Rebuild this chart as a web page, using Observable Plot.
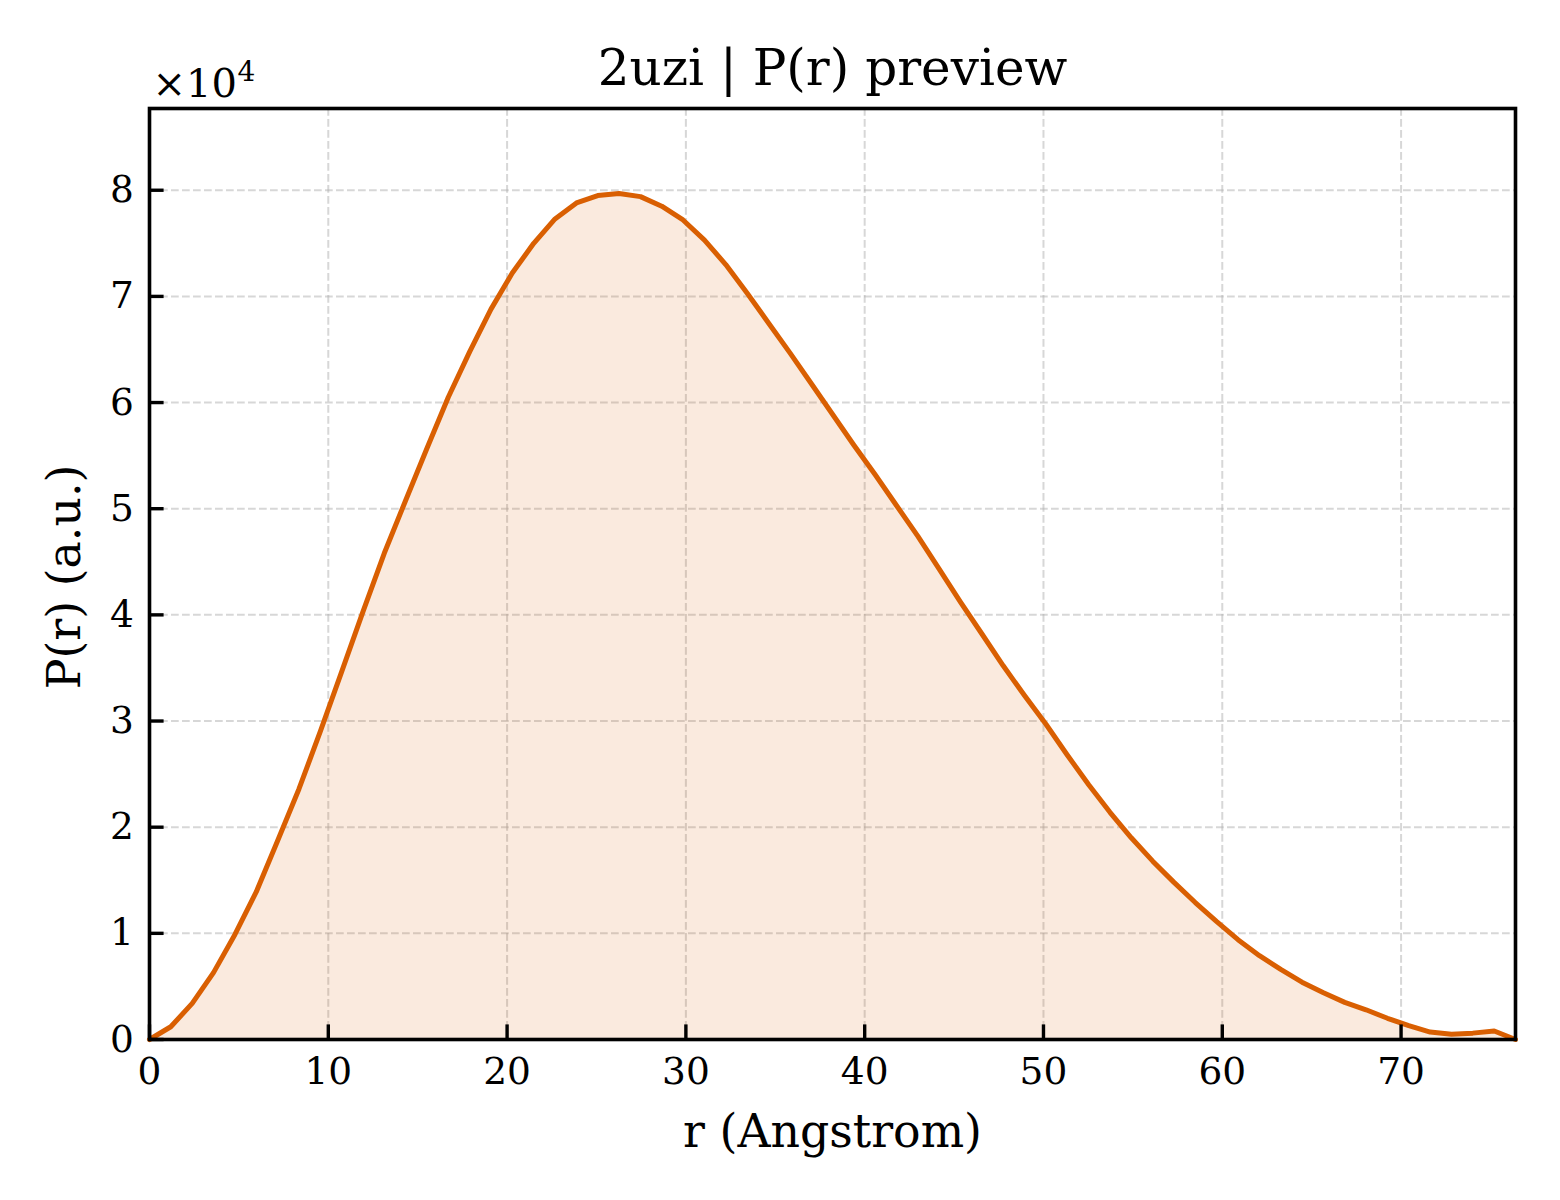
<!DOCTYPE html>
<html>
<head>
<meta charset="utf-8">
<script src="https://cdn.jsdelivr.net/npm/d3@7"></script>
<script src="https://cdn.jsdelivr.net/npm/@observablehq/plot@0.6"></script>
<style>
  html, body { margin: 0; padding: 0; background: #ffffff; }
  #chart { width: 1560px; height: 1200px; }
</style>
</head>
<body>
<div id="chart"></div>
<script>
// r in Angstrom
const rValues = [0, 1.19, 2.39, 3.58, 4.78, 5.97, 7.16, 8.36, 9.55, 10.74, 11.94, 13.13, 14.33, 15.52, 16.71, 17.91,
  19.10, 20.29, 21.49, 22.68, 23.88, 25.07, 26.26, 27.46, 28.65, 29.84, 31.04, 32.23, 33.43, 34.62, 35.81, 37.01,
  38.20, 39.39, 40.59, 41.78, 42.98, 44.17, 45.36, 46.56, 47.75, 48.94, 50.14, 51.33, 52.53, 53.72, 54.91, 56.11,
  57.30, 58.49, 59.69, 60.88, 62.08, 63.27, 64.46, 65.66, 66.85, 68.04, 69.24, 70.43, 71.63, 72.82, 74.01, 75.21, 76.40];
// P(r) in arbitrary units
const pValues = [0, 1200, 3400, 6300, 9900, 13900, 18700, 23600, 29000, 34600, 40300, 45800, 50800, 55700, 60500, 64800,
  68800, 72200, 75000, 77300, 78800, 79500, 79700, 79400, 78500, 77200, 75300, 73000, 70300, 67500, 64700, 61800,
  58900, 56000, 53200, 50300, 47400, 44300, 41200, 38200, 35200, 32400, 29700, 26800, 24000, 21400, 19000, 16800,
  14800, 12900, 11100, 9400, 7900, 6600, 5400, 4400, 3500, 2800, 2000, 1300, 700, 500, 600, 800, 0];
const xTicks = [0, 10, 20, 30, 40, 50, 60, 70];
const yTicks = [0, 10000, 20000, 30000, 40000, 50000, 60000, 70000, 80000];
const titleText = "2uzi | P(r) preview";
const xLabel = "r (Angstrom)";
const yLabel = "P(r) (a.u.)";
const offsetBase = "×10";
const offsetExp = "4";

const data = rValues.map((r, i) => ({r, p: pValues[i]}));
const lineColor = "#d95f02";

const chart = Plot.plot({
  width: 1560,
  height: 1200,
  marginLeft: 149,
  marginRight: 45,
  marginTop: 108,
  marginBottom: 161,
  style: {fontFamily: "'DejaVu Serif', serif", fontSize: "37.5px", background: "#ffffff", color: "#000000"},
  x: {domain: [0, 76.4], label: null},
  y: {domain: [0, 87700], label: null},
  marks: [
    Plot.gridX(xTicks, {stroke: "#b0b0b0", strokeOpacity: 0.5, strokeWidth: 2, strokeDasharray: "7.7,3.3"}),
    Plot.gridY(yTicks, {stroke: "#b0b0b0", strokeOpacity: 0.5, strokeWidth: 2, strokeDasharray: "7.7,3.3"}),
    Plot.areaY(data, {x: "r", y: "p", fill: lineColor, fillOpacity: 0.13}),
    Plot.lineY(data, {x: "r", y: "p", stroke: lineColor, strokeWidth: 5, strokeLinejoin: "round"}),
    Plot.frame({stroke: "#000000", strokeWidth: 3.6}),
    Plot.axisX(xTicks, {tickSize: -14.6, tickPadding: 32.3, strokeWidth: 3.4, fontSize: 37.5, tickFormat: d => String(d), label: null}),
    Plot.axisY(yTicks, {tickSize: -14.6, tickPadding: 30.2, strokeWidth: 3.4, fontSize: 37.5, tickFormat: d => String(d / 10000), label: null}),
    Plot.text([titleText], {text: d => d, frameAnchor: "top", lineAnchor: "bottom", dy: -24, fontSize: 50}),
    Plot.text([offsetBase], {text: d => d, frameAnchor: "top-left", textAnchor: "start", lineAnchor: "bottom", dx: 3, dy: -12, fontSize: 40}),
    Plot.text([offsetExp], {text: d => d, frameAnchor: "top-left", textAnchor: "start", lineAnchor: "bottom", dx: 88, dy: -28, fontSize: 28}),
    Plot.text([xLabel], {text: d => d, frameAnchor: "bottom", lineAnchor: "bottom", dy: 107, fontSize: 45.8}),
    Plot.text([yLabel], {text: d => d, frameAnchor: "left", textAnchor: "middle", rotate: -90, dx: -84, dy: 3, fontSize: 45.8})
  ]
});
document.getElementById("chart").appendChild(chart);
</script>
</body>
</html>
